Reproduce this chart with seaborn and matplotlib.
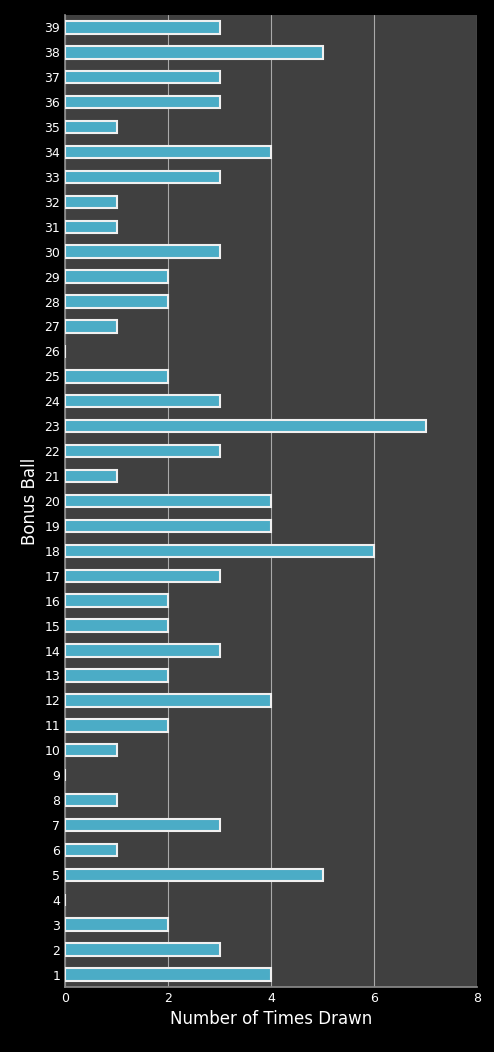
import pandas as pd
import matplotlib.pyplot as plt
import seaborn as sns

balls = [str(i) for i in range(1, 40)]
times_drawn = [4, 3, 2, 0, 5, 1, 3, 1, 0, 1, 2, 4, 2, 3, 2, 2, 3, 6, 4, 4,
               1, 3, 7, 3, 2, 0, 1, 2, 2, 3, 1, 1, 3, 4, 1, 3, 3, 5, 3]
x_ticks = [0, 2, 4, 6, 8]

df = pd.DataFrame({"ball": balls, "count": times_drawn})

sns.set_theme(style="dark")
plt.rcParams["font.family"] = ["DejaVu Sans"]

fig = plt.figure(figsize=(4.94, 10.52), dpi=100, facecolor="black")
ax = fig.add_axes([0.1316, 0.0618, 0.834, 0.924])
ax.set_facecolor("#404040")

sns.barplot(data=df, x="count", y="ball", order=balls[::-1], orient="h",
            color="#4bacc6", saturation=1, width=0.5,
            edgecolor="#f0f0f0", linewidth=1.5, ax=ax, zorder=3)

ax.set_xlim(0, 8)
ax.set_xticks(x_ticks)
ax.grid(axis="x", color="#aaaaaa", linewidth=0.8, zorder=0)
ax.grid(axis="y", visible=False)
ax.tick_params(colors="white", labelsize=9, length=0)
ax.set_xlabel("Number of Times Drawn", color="white", fontsize=12)
ax.set_ylabel("Bonus Ball", color="white", fontsize=12)
for s in ax.spines.values():
    s.set_visible(False)
ax.spines["left"].set_visible(True)
ax.spines["bottom"].set_visible(True)
ax.spines["left"].set_color("#888888")
ax.spines["bottom"].set_color("#888888")

fig.savefig("out.png", dpi=100, facecolor="black")
